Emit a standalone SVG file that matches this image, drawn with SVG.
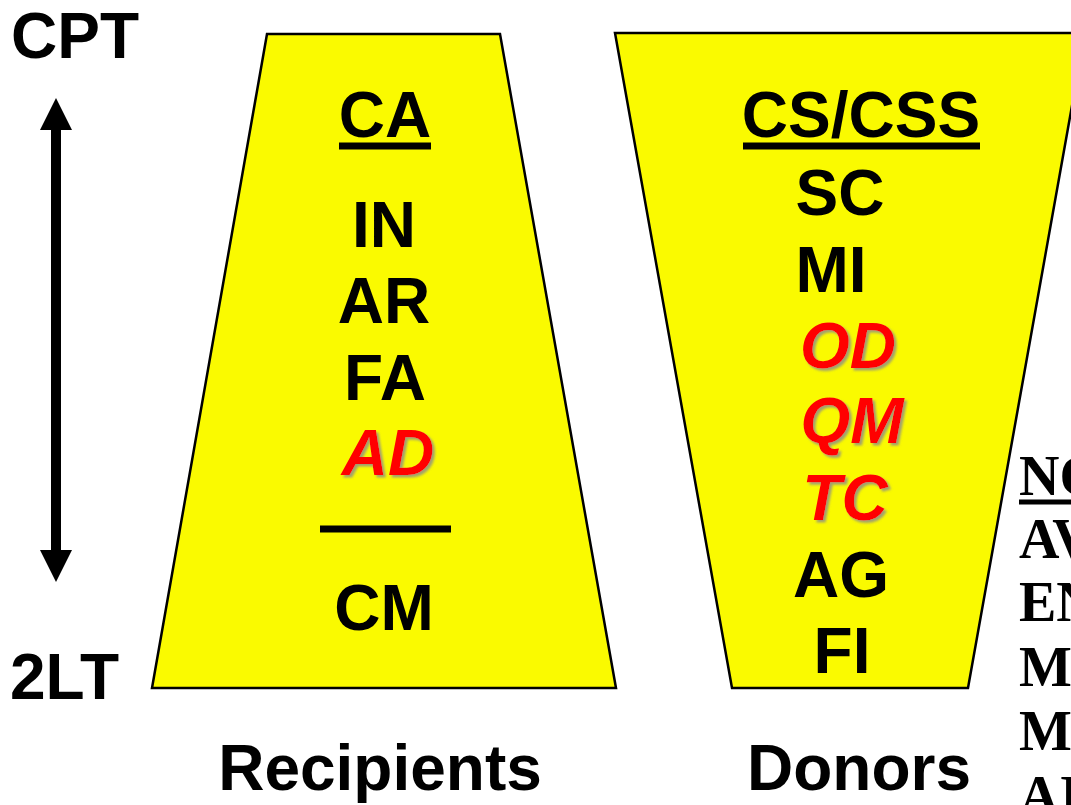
<svg xmlns="http://www.w3.org/2000/svg" width="1071" height="805" viewBox="0 0 1071 805">
  <defs>
    <filter id="shadow" x="-10%" y="-10%" width="130%" height="130%">
      <feDropShadow dx="2.5" dy="2.5" stdDeviation="1" flood-color="#8a8a8a" flood-opacity="0.8"/>
    </filter>
  </defs>
  <style>
    .sans { font-family: "Liberation Sans", Arial, sans-serif; font-weight: bold; font-size: 64px; fill: #000; }
    .mid { text-anchor: middle; }
    .hot { fill: #ff0000; font-style: italic; filter: url(#shadow); }
    .serif { font-family: "Liberation Serif", "Times New Roman", serif; font-weight: bold; font-size: 56px; fill: #000; }
    .tray { fill: #fafa00; stroke: #000; stroke-width: 2.5; stroke-linejoin: miter; }
    .bar { stroke: #000; stroke-width: 7; }
  </style>

  <!-- rank scale -->
  <g id="scale">
    <text class="sans" x="11" y="58">CPT</text>
    <text class="sans" x="10" y="699">2LT</text>
    <rect x="51" y="128" width="10" height="424" fill="#000"/>
    <polygon points="56,98 40,130 72,130" fill="#000"/>
    <polygon points="56,582 40,550 72,550" fill="#000"/>
  </g>

  <!-- recipients -->
  <g id="recipients">
    <polygon class="tray" points="267,34 500,34 616,688 152,688"/>
    <text class="sans mid" x="385" y="137">CA</text>
    <line class="bar" x1="339" y1="146" x2="431" y2="146"/>
    <text class="sans mid" x="384" y="247">IN</text>
    <text class="sans mid" x="384" y="323">AR</text>
    <text class="sans mid" x="385" y="400">FA</text>
    <text class="sans mid hot" x="388" y="475">AD</text>
    <line class="bar" x1="320" y1="529" x2="451" y2="529"/>
    <text class="sans mid" x="384" y="630">CM</text>
    <text class="sans mid" x="380" y="790">Recipients</text>
  </g>

  <!-- donors -->
  <g id="donors">
    <polygon class="tray" points="615,33 1085,33 968,688 732,688"/>
    <text class="sans mid" x="861" y="137">CS/CSS</text>
    <line class="bar" x1="743" y1="146" x2="980" y2="146"/>
    <text class="sans mid" x="840" y="215">SC</text>
    <text class="sans mid" x="831" y="292">MI</text>
    <text class="sans mid hot" x="848" y="368">OD</text>
    <text class="sans mid hot" x="852" y="443">QM</text>
    <text class="sans mid hot" x="845" y="520">TC</text>
    <text class="sans mid" x="841" y="597">AG</text>
    <text class="sans mid" x="842" y="673">FI</text>
    <text class="sans mid" x="859" y="790">Donors</text>
  </g>

  <!-- neither list, running past the right edge -->
  <g id="neither">
    <text class="serif" x="1019" y="495">NO</text>
    <line x1="1019" y1="502" x2="1080" y2="502" stroke="#000" stroke-width="5"/>
    <text class="serif" x="1019" y="558">AV</text>
    <text class="serif" x="1019" y="621">EN</text>
    <text class="serif" x="1019" y="686">MI</text>
    <text class="serif" x="1019" y="750">MI</text>
    <text class="serif" x="1019" y="815">AI</text>
  </g>

  <!-- no connectors in this figure -->
  <g id="connectors"/>
</svg>
